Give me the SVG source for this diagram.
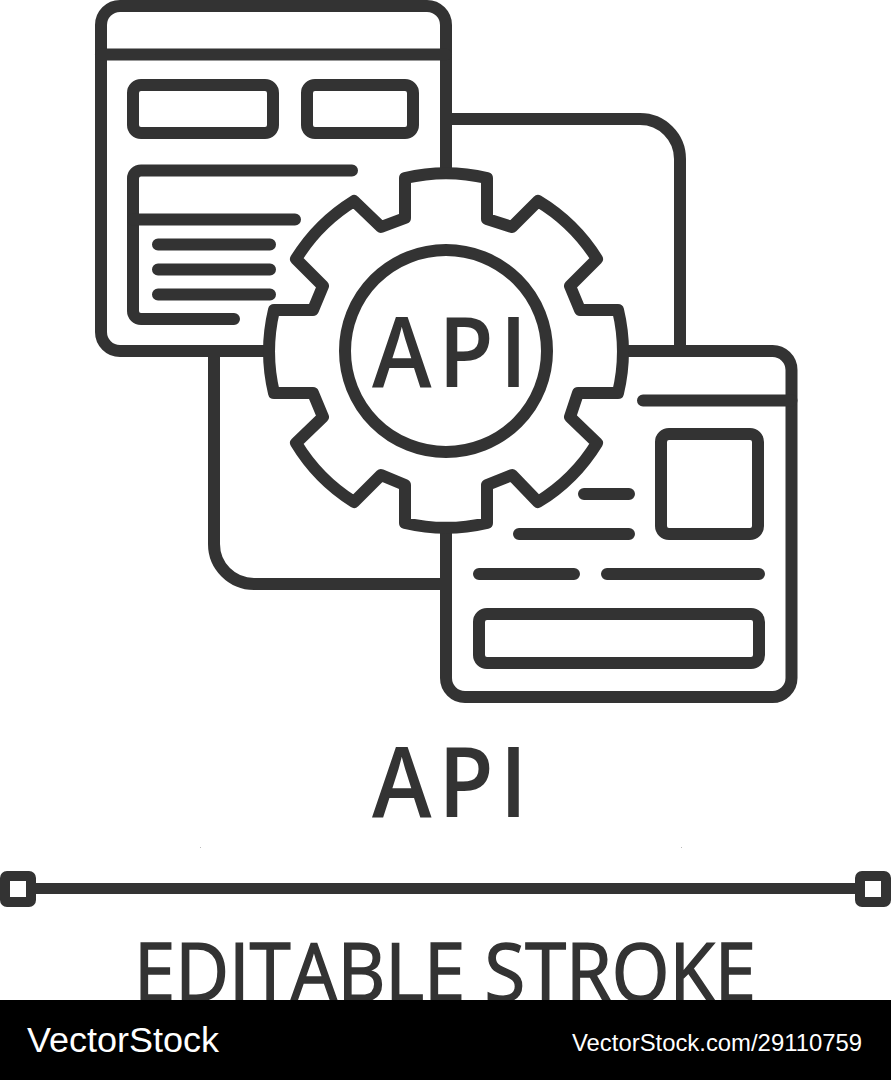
<svg xmlns="http://www.w3.org/2000/svg" width="891" height="1080" viewBox="0 0 891 1080">
<style>
.l{fill:none;stroke:#333;stroke-width:12;stroke-linecap:round;stroke-linejoin:round}
.t{font-family:"Open Sans","Liberation Sans",sans-serif;font-weight:600;fill:#333}
.w{font-family:"Liberation Sans",Arial,sans-serif;fill:#fff}
</style>
<rect width="891" height="1080" fill="#fff"/>
<g id="connectors">
<path class="l" d="M446 119H640A40 40 0 0 1 680 159V350"/>
<path class="l" d="M214 352V544A40 40 0 0 0 254 584H446"/>
</g>
<g id="window-left">
<path class="l" d="M446 170V25A19 19 0 0 0 427 6H120A19 19 0 0 0 101 25V332A19 19 0 0 0 120 351H268"/>
<path class="l" d="M101 54.500H446"/>
<rect class="l" x="133" y="85" width="140" height="48" rx="8"/>
<rect class="l" x="307" y="85" width="106" height="48" rx="8"/>
<path class="l" d="M352 170.500H141A8 8 0 0 0 133 178.500V311A8 8 0 0 0 141 319H234"/>
<path class="l" d="M133 219.500H295M158 244.500H270M158 269.500H270M158 294.500H270"/>
</g>
<g id="window-right">
<path class="l" d="M628 351H772A19 19 0 0 1 791.500 370V678A19 19 0 0 1 772 697H465A19 19 0 0 1 446 678V530"/>
<path class="l" d="M643 400.500H791.500M584 494H629M519 534H629M479 574H574M607 574H759"/>
<rect class="l" x="661" y="434" width="97" height="100" rx="8"/>
<rect class="l" x="479" y="614" width="280" height="49" rx="8"/>
</g>
<g id="gear">
<path class="l" d="M405 178A178 178 0 0 1 487 178V219L512 227L538 201A178 178 0 0 1 597 259L570 286L580 310H618A178 178 0 0 1 618 393H578L570 417L597 443A178 178 0 0 1 538 502L512 475L487 485V523A178 178 0 0 1 405 523V485L381 475L354 502A178 178 0 0 1 296 443L323 417L313 393H274A178 178 0 0 1 274 310H313L323 286L296 259A178 178 0 0 1 354 201L381 227L405 218Z"/>
<circle class="l" cx="446" cy="351" r="101"/>
<text class="t" transform="translate(372 387) scale(.92 1)" x="0 72 139" y="0" font-size="98">API</text>
</g>
<g id="label-api">
<text class="t" transform="translate(372 817) scale(.92 1)" x="0 72 139" y="0" font-size="98">API</text>
</g>
<g id="stroke-bar">
<rect x="30" y="883" width="830" height="11" fill="#333"/>
<rect x="5" y="876" width="26" height="26" rx="2" fill="#fff" stroke="#333" stroke-width="10"/>
<rect x="860" y="876" width="26" height="26" rx="2" fill="#fff" stroke="#333" stroke-width="10"/>
<rect x="200" y="847" width="1" height="1" fill="#bbb"/>
<rect x="681" y="847" width="1" height="1" fill="#bbb"/>
</g>
<text class="t" style="font-weight:400;stroke:#333;stroke-width:1.6" x="134" y="1001" font-size="81" textLength="622" lengthAdjust="spacingAndGlyphs">EDITABLE STROKE</text>
<g id="footer">
<rect y="1000" width="891" height="80" fill="#000"/>
<text class="w" x="27" y="1052" font-size="35" textLength="192" lengthAdjust="spacingAndGlyphs">VectorStock</text>
<text class="w" x="572" y="1051" font-size="24" textLength="290" lengthAdjust="spacingAndGlyphs">VectorStock.com/29110759</text>
</g>
</svg>
